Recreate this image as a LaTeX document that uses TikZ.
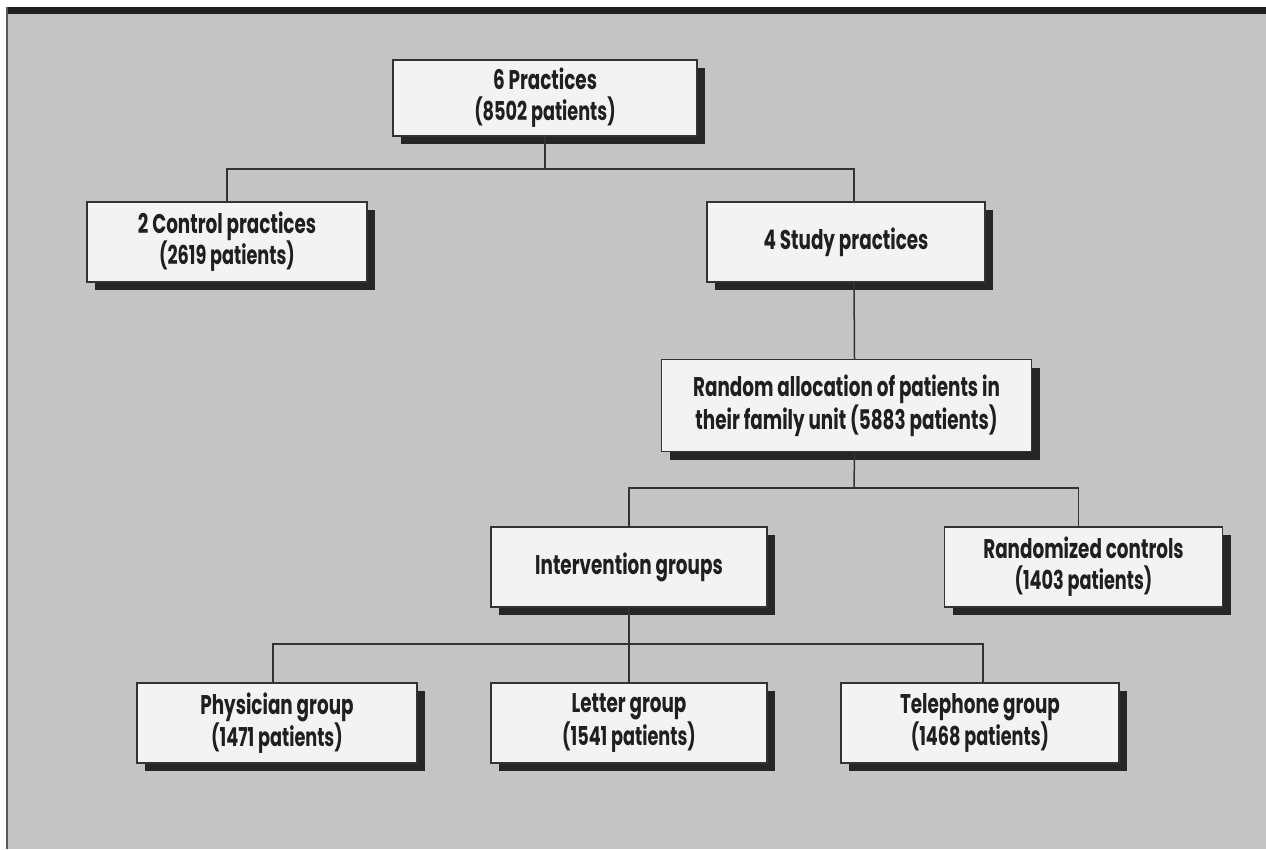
\documentclass[tikz,border=0pt]{standalone}
\usepackage{fontspec}
\newfontfamily\boxfont{Poppins}[FakeStretch=0.68]
\usetikzlibrary{shadows}
\definecolor{paper}{HTML}{C4C4C4}
\definecolor{boxfill}{HTML}{F3F3F3}
\newcommand{\linetwo}{\fontsize{26}{31}\selectfont}
\tikzset{
  box/.style={draw=black!80, line width=1.2pt, fill=boxfill, inner sep=0pt,
    align=center, font=\boxfont\bfseries\fontsize{27}{31}\selectfont, text=black!88,
    drop shadow={shadow xshift=8pt, shadow yshift=-8pt, fill=black!85, opacity=1}},
  link/.style={draw=black!80, line width=1.5pt},
}
\begin{document}
\begin{tikzpicture}[x=1pt, y=-1pt]
  \useasboundingbox (0,0) rectangle (1266,849);
  % page
  \fill[white] (0,0) rectangle (1266,849);
  \fill[paper] (7,14) rectangle (1266,849);
  \fill[black!88] (7,7) rectangle (1266,14);
  \draw[black!65, line width=2pt] (7,7) -- (7,849);
  % boxes
  \node[box, minimum width=304pt, minimum height=76pt] (practices) at (545,98)
    {6 Practices\\\linetwo (8502 patients)};
  \node[box, minimum width=280pt, minimum height=80pt] (control) at (227,242)
    {2 Control practices\\\linetwo (2619 patients)};
  \node[box, minimum width=278pt, minimum height=80pt] (study) at (846,242)
    {4 Study practices};
  \node[box, minimum width=370pt, minimum height=92pt] (random) at (846.5,405.5)
    {Random allocation of patients in\\their family unit (5883 patients)};
  \node[box, minimum width=276pt, minimum height=80pt] (interv) at (629,567)
    {Intervention groups};
  \node[box, minimum width=278pt, minimum height=80pt] (randctl) at (1083.5,567)
    {Randomized controls\\\linetwo (1403 patients)};
  \node[box, minimum width=280pt, minimum height=80pt] (physician) at (277,723)
    {Physician group\\\linetwo (1471 patients)};
  \node[box, minimum width=276pt, minimum height=80pt] (letter) at (629,723)
    {Letter group\\\linetwo (1541 patients)};
  \node[box, minimum width=278pt, minimum height=80pt] (telephone) at (980,723)
    {Telephone group\\\linetwo (1468 patients)};
  % connectors
  \coordinate (bus1) at (545,169);
  \coordinate (bus2) at (854,488);
  \coordinate (bus3) at (629,644);
  \draw[link] (practices.south) -- (bus1);
  \draw[link] (control.north) |- (bus1) -| ([xshift=8pt]study.north);
  \draw[link] ([xshift=8pt]study.south) -- ([xshift=8pt]random.north);
  \draw[link] ([xshift=8pt]random.south) -- (bus2);
  \draw[link] (interv.north) |- (bus2) -| ([xshift=-5pt]randctl.north);
  \draw[link] (interv.south) -- (letter.north);
  \draw[link] ([xshift=-4pt]physician.north) |- (bus3) -| ([xshift=3pt]telephone.north);
\end{tikzpicture}
\end{document}
